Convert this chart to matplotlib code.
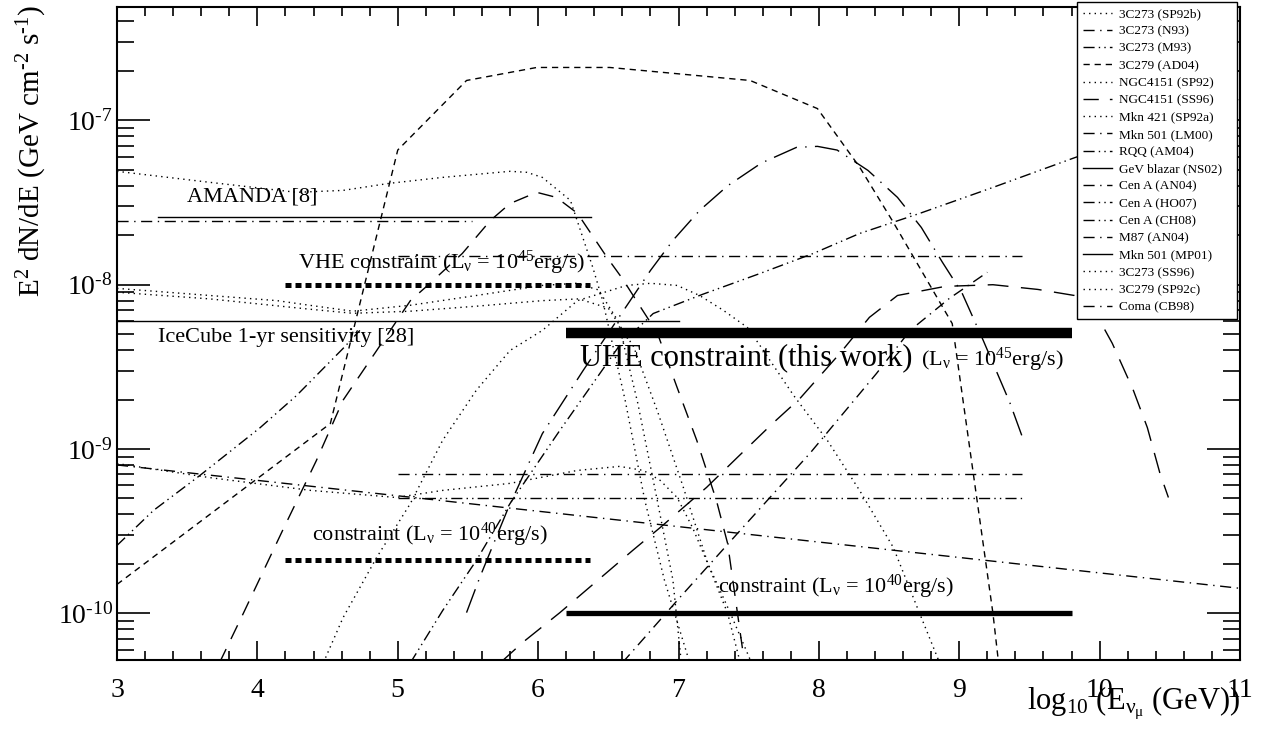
import matplotlib
matplotlib.use("Agg")
import numpy as np
import matplotlib.pyplot as plt
from matplotlib.lines import Line2D
from matplotlib.ticker import MultipleLocator, LogLocator, NullFormatter, FuncFormatter

plt.rcParams['font.family'] = ['Liberation Serif', 'DejaVu Serif']
plt.rcParams['mathtext.fontset'] = 'custom'
plt.rcParams['mathtext.rm'] = 'Liberation Serif'
plt.rcParams['mathtext.it'] = 'Liberation Serif:italic'
plt.rcParams['mathtext.default'] = 'regular'

HY = "\u2010"  # hyphen used in exponents, as in the original

# ---- model curves: log10(E/GeV) and E^2 dN/dE (GeV cm^-2 s^-1) ----
ad04_x = [3.0, 4.52, 5.0, 5.49, 5.99, 6.51, 7.51, 7.99, 8.29, 8.53, 8.95, 9.10, 9.24, 9.28]
ad04_y = [1.5e-10, 1.43e-9, 6.6e-8, 1.75e-7, 2.1e-7, 2.1e-7, 1.75e-7, 1.18e-7, 5.2e-8, 2.4e-8, 5.8e-9, 7.1e-10, 1.0e-10, 5.0e-11]

ss96_x = [3.73, 3.90, 4.18, 4.42, 4.61, 4.90, 5.09, 5.23, 5.46, 5.66, 5.80, 5.99, 6.13, 6.28, 6.49, 6.60, 6.73, 6.85, 6.99, 7.13, 7.27, 7.35, 7.47]
ss96_y = [5.0e-11, 1.0e-10, 3.2e-10, 8.5e-10, 1.98e-9, 4.6e-9, 8.0e-9, 1.02e-8, 1.55e-8, 2.46e-8, 3.12e-8, 3.65e-8, 3.4e-8, 2.72e-8, 1.47e-8, 1.09e-8, 7.3e-9, 5.06e-9, 2.37e-9, 1.13e-9, 4.87e-10, 2.66e-10, 5.0e-11]

lm00_x = [5.49, 5.585, 5.78, 6.03, 6.32, 6.80, 6.96, 7.15, 7.35, 7.59, 7.84, 7.99, 8.13, 8.35, 8.56, 8.73, 8.88, 9.02, 9.17, 9.36, 9.45]
lm00_y = [1.01e-10, 1.66e-10, 4.23e-10, 1.24e-9, 3.0e-9, 1.22e-8, 1.86e-8, 2.83e-8, 4.0e-8, 5.5e-8, 6.85e-8, 6.95e-8, 6.6e-8, 4.96e-8, 3.4e-8, 2.23e-8, 1.37e-8, 8.9e-9, 4.6e-9, 1.92e-9, 1.18e-9]

mp01_x = [5.73, 5.89, 6.155, 6.675, 6.87, 7.20, 7.42, 7.67, 7.865, 8.15, 8.36, 8.56, 8.90, 9.24, 9.56, 9.82, 10.0, 10.09, 10.24, 10.34, 10.43, 10.49]
mp01_y = [5.0e-11, 6.65e-11, 1.01e-10, 2.42e-10, 3.33e-10, 5.84e-10, 8.9e-10, 1.43e-9, 2.03e-9, 3.82e-9, 6.33e-9, 8.6e-9, 9.77e-9, 1.0e-8, 9.36e-9, 8.6e-9, 6.07e-9, 4.4e-9, 2.28e-9, 1.35e-9, 7.1e-10, 5.07e-10]

sp92b_x = [3.0, 3.66, 4.28, 4.61, 4.94, 5.32, 5.80, 5.92, 6.03, 6.23, 6.39, 6.46, 6.62, 6.76, 6.90, 7.08]
sp92b_y = [4.9e-8, 4.2e-8, 3.65e-8, 3.75e-8, 4.14e-8, 4.5e-8, 4.9e-8, 4.83e-8, 4.5e-8, 3.26e-8, 1.27e-8, 8.0e-9, 1.98e-9, 4.87e-10, 1.59e-10, 5.0e-11]

sp92_x = [3.0, 3.66, 4.14, 4.37, 4.68, 5.09, 5.56, 6.03, 6.27, 6.43, 6.57, 6.71, 6.85, 6.96, 7.02]
sp92_y = [9.5e-9, 8.6e-9, 8.0e-9, 7.5e-9, 6.9e-9, 7.5e-9, 8.6e-9, 9.9e-9, 1.02e-8, 9.3e-9, 6.0e-9, 1.9e-9, 4.8e-10, 1.6e-10, 5.0e-11]

sp92a_x = [3.0, 3.66, 4.37, 4.68, 5.09, 5.56, 6.03, 6.29, 6.50, 6.68, 6.85, 7.03, 7.21, 7.37, 7.52]
sp92a_y = [9.0e-9, 8.2e-9, 7.1e-9, 6.7e-9, 6.9e-9, 7.4e-9, 8.0e-9, 8.2e-9, 7.2e-9, 4.2e-9, 1.7e-9, 6.0e-10, 2.0e-10, 1.0e-10, 5.0e-11]

sp92c_x = [4.47, 4.61, 4.85, 5.09, 5.32, 5.56, 5.80, 6.03, 6.28, 6.63, 6.80, 6.99, 7.15, 7.32, 7.49, 7.58, 7.82, 8.06, 8.29, 8.53, 8.70, 8.86]
sp92c_y = [5.0e-11, 9.4e-11, 2.19e-10, 4.66e-10, 1.13e-9, 2.28e-9, 3.98e-9, 5.27e-9, 8.0e-9, 9.9e-9, 1.02e-8, 9.9e-9, 8.6e-9, 6.98e-9, 5.5e-9, 4.27e-9, 2.12e-9, 1.13e-9, 5.6e-10, 2.52e-10, 1.09e-10, 5.0e-11]

ss96b_x = [3.0, 3.66, 4.38, 4.99, 5.32, 5.80, 6.28, 6.58, 6.75, 6.87, 6.99, 7.10, 7.22, 7.35, 7.44]
ss96b_y = [8.16e-10, 6.7e-10, 5.6e-10, 5.07e-10, 5.6e-10, 6.18e-10, 7.41e-10, 7.84e-10, 7.41e-10, 6.44e-10, 5.07e-10, 3.33e-10, 1.9e-10, 1.0e-10, 5.0e-11]

m93_x = [3.0, 3.26, 3.59, 4.02, 4.28, 4.61, 4.73]
m93_y = [2.59e-10, 4.23e-10, 6.9e-10, 1.35e-9, 2.12e-9, 4.09e-9, 5.27e-9]

rqq_x = [5.09, 5.32, 5.56, 5.80, 6.155, 6.37, 6.58, 6.82, 7.17, 7.58, 7.96, 8.29, 8.72, 9.24, 9.81, 11.0]
rqq_y = [5.0e-11, 1.04e-10, 2.1e-10, 4.66e-10, 1.3e-9, 2.37e-9, 4.27e-9, 6.68e-9, 8.73e-9, 1.17e-8, 1.55e-8, 2.05e-8, 2.72e-8, 3.91e-8, 5.88e-8, 1.34e-7]

m87_x = [6.60, 7.01, 7.44, 7.94, 8.41, 8.65, 8.93, 9.20]
m87_y = [5.0e-11, 1.25e-10, 3.2e-10, 9.5e-10, 2.88e-9, 5.27e-9, 8.26e-9, 1.19e-8]

coma_x = [3.0, 11.0]
coma_y = [8.0e-10, 1.42e-10]

an04_x, an04_y = [5.0, 9.45], [1.5e-8, 1.5e-8]
ho07_x, ho07_y = [5.0, 9.45], [7.0e-10, 7.0e-10]
ch08_x, ch08_y = [5.0, 9.45], [5.0e-10, 5.0e-10]
n93_x, n93_y = [3.0, 5.53], [2.45e-8, 2.45e-8]

# ---- sensitivities / constraints ----
amanda_x, amanda_y = [3.29, 6.38], [2.6e-8, 2.6e-8]
icecube_x, icecube_y = [3.0, 7.0], [6.0e-9, 6.0e-9]
vhe45_x, vhe45_y = [4.2, 6.37], [1.0e-8, 1.0e-8]
vhe40_x, vhe40_y = [4.2, 6.37], [2.1e-10, 2.1e-10]
uhe45_x, uhe45_y = [6.2, 9.8], [5.1e-9, 5.1e-9]
uhe40_x, uhe40_y = [6.2, 9.8], [1.0e-10, 1.0e-10]

legend_labels = ["3C273 (SP92b)", "3C273 (N93)", "3C273 (M93)", "3C279 (AD04)",
                 "NGC4151 (SP92)", "NGC4151 (SS96)", "Mkn 421 (SP92a)", "Mkn 501 (LM00)",
                 "RQQ (AM04)", "GeV blazar (NS02)", "Cen A (AN04)", "Cen A (HO07)",
                 "Cen A (CH08)", "M87 (AN04)", "Mkn 501 (MP01)", "3C273 (SS96)",
                 "3C279 (SP92c)", "Coma (CB98)"]

DOT = (0, (1, 3))
SDASH = (0, (4.5, 3.5))
LDASH = (0, (11, 8))
VLDASH = (0, (15, 9))
DASHDOT = (0, (8, 4, 1, 4))
LDASHDOT = (0, (18, 6, 1, 6))
DASHDOTDOT = (0, (8, 3, 1, 3, 1, 3))
legend_styles = [DOT, DASHDOT, DASHDOTDOT, SDASH, DOT, LDASH, DOT, DASHDOT,
                 DASHDOTDOT, '-', DASHDOT, DASHDOTDOT, DASHDOTDOT, DASHDOT, '-',
                 DOT, DOT, DASHDOT]

fig = plt.figure(figsize=(12.67, 7.33), dpi=100)
ax = fig.add_axes([117 / 1267, 1 - 660 / 733, 1123 / 1267, 653 / 733])

lw = 1.0
ax.plot(ad04_x, ad04_y, 'k', lw=lw, ls=SDASH)
ax.plot(ss96_x, ss96_y, 'k', lw=lw, ls=LDASH)
ax.plot(lm00_x, lm00_y, 'k', lw=lw, ls=LDASHDOT)
ax.plot(mp01_x, mp01_y, 'k', lw=lw, ls=VLDASH)
ax.plot(sp92b_x, sp92b_y, 'k', lw=lw, ls=DOT)
ax.plot(sp92_x, sp92_y, 'k', lw=lw, ls=DOT)
ax.plot(sp92a_x, sp92a_y, 'k', lw=lw, ls=DOT)
ax.plot(sp92c_x, sp92c_y, 'k', lw=lw, ls=DOT)
ax.plot(ss96b_x, ss96b_y, 'k', lw=lw, ls=DOT)
ax.plot(m93_x, m93_y, 'k', lw=lw, ls=DASHDOTDOT)
ax.plot(rqq_x, rqq_y, 'k', lw=lw, ls=DASHDOTDOT)
ax.plot(m87_x, m87_y, 'k', lw=lw, ls=DASHDOT)
ax.plot(coma_x, coma_y, 'k', lw=lw, ls=DASHDOT)
ax.plot(an04_x, an04_y, 'k', lw=lw, ls=DASHDOT)
ax.plot(ho07_x, ho07_y, 'k', lw=lw, ls=DASHDOT)
ax.plot(ch08_x, ch08_y, 'k', lw=lw, ls=DASHDOTDOT)
ax.plot(n93_x, n93_y, 'k', lw=lw, ls=DASHDOT)

ax.plot(amanda_x, amanda_y, 'k', lw=1.0)
ax.plot(icecube_x, icecube_y, 'k', lw=1.0)
ax.plot(vhe45_x, vhe45_y, 'k', lw=3.6, ls=(0, (1.2, 0.8)), solid_capstyle='butt', dash_capstyle='butt')
ax.plot(vhe40_x, vhe40_y, 'k', lw=3.6, ls=(0, (1.2, 0.8)), solid_capstyle='butt', dash_capstyle='butt')
ax.plot(uhe45_x, uhe45_y, 'k', lw=7.5, solid_capstyle='butt')
ax.plot(uhe40_x, uhe40_y, 'k', lw=3.8, solid_capstyle='butt')

# annotations
ax.text(3.50, 3.4e-8, "AMANDA [8]", fontsize=16, va='center')
ax.text(4.29, 1.35e-8, r"VHE constraint (L$_{ν}$ = 10$^{45}$erg/s)", fontsize=16, va='center')
ax.text(3.29, 4.8e-9, "IceCube 1-yr sensitivity [28]", fontsize=16, va='center')
ax.text(6.30, 3.6e-9, "UHE constraint (this work)", fontsize=22, va='center')
ax.text(8.73, 3.5e-9, r"(L$_{ν}$ = 10$^{45}$erg/s)", fontsize=16, va='center')
ax.text(4.39, 3.0e-10, r"constraint (L$_{ν}$ = 10$^{40}$erg/s)", fontsize=16, va='center')
ax.text(7.28, 1.45e-10, r"constraint (L$_{ν}$ = 10$^{40}$erg/s)", fontsize=16, va='center')

ax.set_yscale('log')
ax.set_xlim(3, 11)
ax.set_ylim(5.2e-11, 4.9e-7)
ax.xaxis.set_major_locator(MultipleLocator(1))
ax.xaxis.set_minor_locator(MultipleLocator(0.2))
ax.yaxis.set_major_locator(LogLocator(base=10))
ax.yaxis.set_minor_locator(LogLocator(base=10, subs=range(2, 10)))
ax.yaxis.set_minor_formatter(NullFormatter())
ax.yaxis.set_major_formatter(FuncFormatter(lambda v, p: "10$^{" + HY + "%d}$" % round(-np.log10(v))))
ax.tick_params(which='both', direction='in', top=True, right=True, width=1.2, labelsize=20)
ax.tick_params(axis='x', which='major', length=13.5, pad=13)
ax.tick_params(axis='x', which='minor', length=6.5)
ax.tick_params(axis='y', which='major', length=24, pad=3)
ax.tick_params(axis='y', which='minor', length=12)
for sp in ax.spines.values():
    sp.set_linewidth(1.5)

fig.text(32 / 1267, 1 - 5 / 733, "E$^{2}$ dN/dE (GeV cm$^{" + HY + "2}$ s$^{" + HY + "1}$)", rotation=90,
         ha='center', va='top', fontsize=21)
fig.text(1240 / 1267, 1 - 703 / 733, r"log$_{10}$ (E$_{ν_{μ}}$ (GeV))", ha='right', va='center', fontsize=22)

handles = [Line2D([], [], color='k', lw=1.0, ls=s) for s in legend_styles]
leg = ax.legend(handles, legend_labels, loc='upper left', mode='expand',
                bbox_to_anchor=(1077 / 1267, 1 - 318 / 733, 160 / 1267, 316 / 733),
                bbox_transform=fig.transFigure, fontsize=9.5, frameon=True,
                fancybox=False, framealpha=1, edgecolor='k', handlelength=2.2,
                handletextpad=0.5, labelspacing=0.38, borderpad=0.45, borderaxespad=0)
leg.get_frame().set_linewidth(1.0)

fig.savefig("out.png", dpi=100)
